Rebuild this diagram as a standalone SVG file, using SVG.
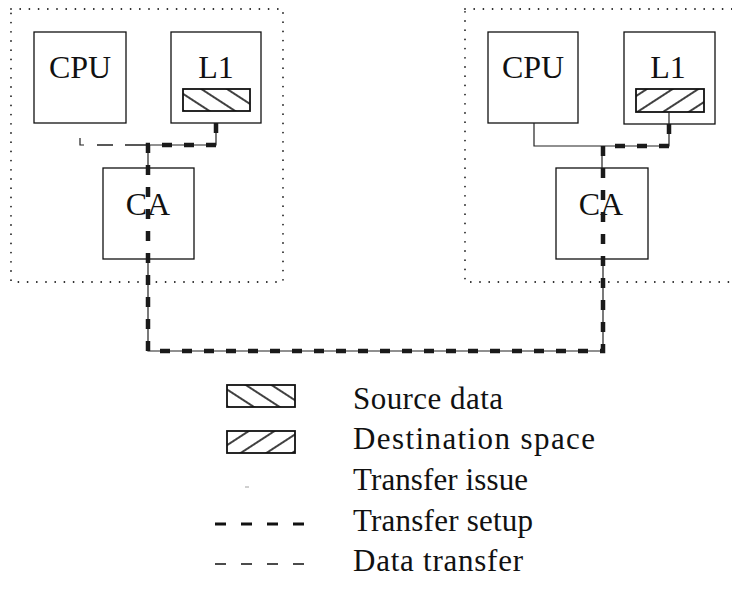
<svg xmlns="http://www.w3.org/2000/svg" width="732" height="592" viewBox="0 0 732 592">
  <style>
    .frame { fill: none; stroke: #222; stroke-width: 1.8; stroke-dasharray: 0 9.2; stroke-linecap: round; }
    .box { fill: #fff; stroke: #111; stroke-width: 1.3; }
    .hatch { stroke: #111; stroke-width: 1.8; }
    .lbl { font-family: "Liberation Serif", "DejaVu Serif", serif; font-size: 32px; fill: #111; text-anchor: middle; }
    .leg { font-family: "Liberation Serif", "DejaVu Serif", serif; font-size: 31px; fill: #111; }
    .issue { fill: none; stroke: #222; stroke-width: 1.2; }
    .setup { fill: none; stroke: #1a1a1a; stroke-width: 4.5; stroke-dasharray: 10 12; }
    .data { fill: none; stroke: #222; stroke-width: 1.6; }
  </style>
  <defs>
    <pattern id="srcHatch" patternUnits="userSpaceOnUse" width="14" height="14" patternTransform="rotate(33)">
      <rect width="14" height="14" fill="#fff"/>
      <line x1="0" y1="7" x2="14" y2="7" stroke="#111" stroke-width="1.6"/>
    </pattern>
    <pattern id="dstHatch" patternUnits="userSpaceOnUse" width="14" height="14" patternTransform="rotate(-33)">
      <rect width="14" height="14" fill="#fff"/>
      <line x1="0" y1="7" x2="14" y2="7" stroke="#111" stroke-width="1.6"/>
    </pattern>
  </defs>

  <rect width="732" height="592" fill="#fff"/>

  <!-- node A: processor, cache and communication assist -->
  <g id="nodeA">
    <rect class="frame" x="11" y="9" width="272" height="273"/>
    <g id="cpuA">
      <rect class="box" x="34" y="32" width="92" height="91"/>
      <text class="lbl" x="80" y="78">CPU</text>
    </g>
    <g id="l1A">
      <rect class="box" x="171" y="32" width="90" height="91"/>
      <text class="lbl" x="216" y="78">L1</text>
      <rect class="hatch" x="183" y="89" width="67" height="22" fill="url(#srcHatch)"/>
    </g>
    <g id="caA">
      <rect class="box" x="103" y="168" width="91" height="91"/>
      <text class="lbl" x="148" y="215">CA</text>
    </g>
  </g>

  <!-- node B: processor, cache and communication assist -->
  <g id="nodeB">
    <rect class="frame" x="465" y="9" width="285" height="273"/>
    <g id="cpuB">
      <rect class="box" x="488" y="32" width="90" height="91"/>
      <text class="lbl" x="533" y="78">CPU</text>
    </g>
    <g id="l1B">
      <rect class="box" x="624" y="32" width="91" height="92"/>
      <text class="lbl" x="668" y="78">L1</text>
      <rect class="hatch" x="636" y="89" width="68" height="23" fill="url(#dstHatch)"/>
    </g>
    <g id="caB">
      <rect class="box" x="556" y="168" width="92" height="91"/>
      <text class="lbl" x="601" y="215">CA</text>
    </g>
  </g>

  <!-- transfer paths -->
  <g id="connectors">
    <!-- issue: thin solid links -->
    <path class="issue" d="M216,123 V145 H148 V168 M148,259 V351 H603 V259 M602,168 V146 H669 V112 M534,123 V146 H602"/>
    <!-- data transfer on the source side -->
    <path class="issue" d="M80,138 V145 H84"/>
    <path class="data" d="M97,145 H113 M125,145 H148"/>
    <!-- setup: heavy dashes along the whole route -->
    <path class="setup" d="M216,123 V145 H148 V351 H603 V146 H669 V112"/>
  </g>

  <!-- key -->
  <g id="legend">
    <rect class="hatch" x="227" y="385" width="68" height="22" fill="url(#srcHatch)"/>
    <text class="leg" x="353" y="409" textLength="150" lengthAdjust="spacing">Source data</text>
    <rect class="hatch" x="227" y="431" width="68" height="22" fill="url(#dstHatch)"/>
    <text class="leg" x="353" y="449" textLength="242" lengthAdjust="spacing">Destination space</text>
    <line x1="245" y1="487" x2="249" y2="487" stroke="#888" stroke-width="0.8"/>
    <text class="leg" x="353" y="490" textLength="175" lengthAdjust="spacing">Transfer issue</text>
    <path d="M215,524 H307" fill="none" stroke="#111" stroke-width="3" stroke-dasharray="11 15"/>
    <text class="leg" x="353" y="531" textLength="180" lengthAdjust="spacing">Transfer setup</text>
    <path d="M215,564 H307" fill="none" stroke="#111" stroke-width="1.5" stroke-dasharray="11 15"/>
    <text class="leg" x="353" y="571" textLength="170" lengthAdjust="spacing">Data transfer</text>
  </g>
</svg>
